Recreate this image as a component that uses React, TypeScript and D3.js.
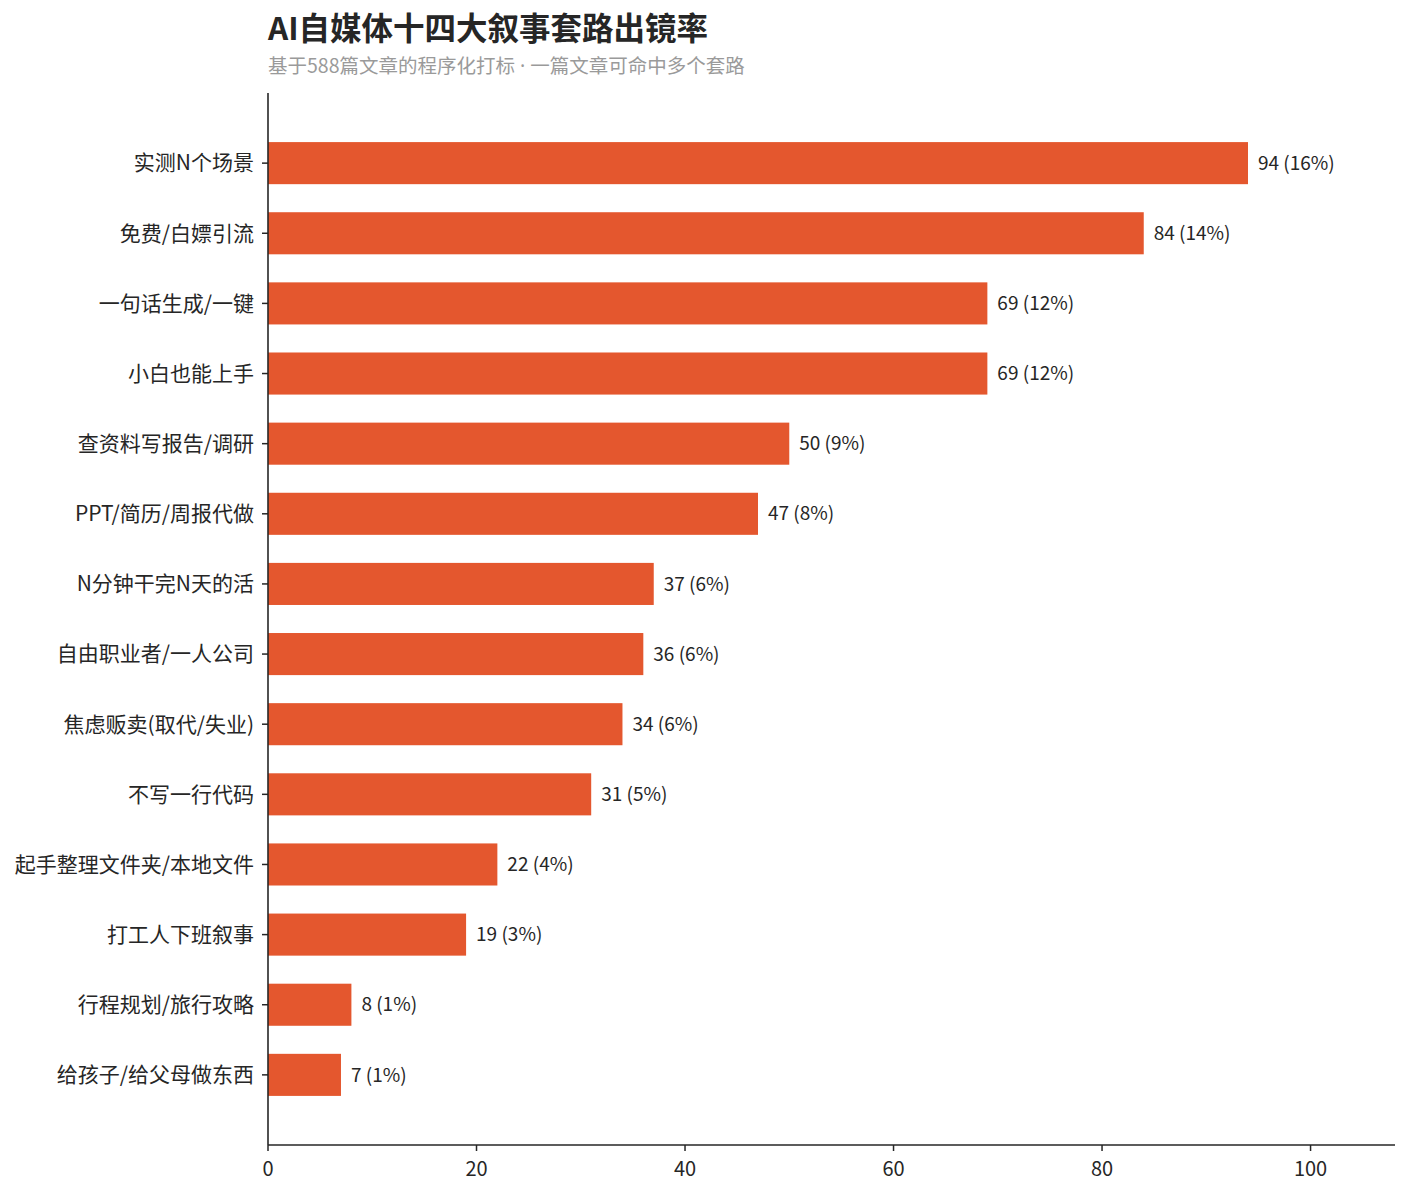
import React from 'react';
import * as d3 from 'd3';

// Chart data
const CATEGORIES: string[] = [
  '实测N个场景',
  '免费/白嫖引流',
  '一句话生成/一键',
  '小白也能上手',
  '查资料写报告/调研',
  'PPT/简历/周报代做',
  'N分钟干完N天的活',
  '自由职业者/一人公司',
  '焦虑贩卖(取代/失业)',
  '不写一行代码',
  '起手整理文件夹/本地文件',
  '打工人下班叙事',
  '行程规划/旅行攻略',
  '给孩子/给父母做东西',
];
const COUNTS: number[] = [94, 84, 69, 69, 50, 47, 37, 36, 34, 31, 22, 19, 8, 7];
const PERCENTS: number[] = [16, 14, 12, 12, 9, 8, 6, 6, 6, 5, 4, 3, 1, 1];
const X_TICKS: number[] = [0, 20, 40, 60, 80, 100];

const TITLE = 'AI自媒体十四大叙事套路出镜率';
const SUBTITLE_A = '基于588篇文章的程序化打标';
const SUBTITLE_B = '一篇文章可命中多个套路';

const WIDTH = 1410;
const HEIGHT = 1197;
const margin = { top: 93, right: 15, bottom: 52, left: 268 };
const FONT = '"Noto Sans CJK SC", "Noto Sans", sans-serif';
const BAR_COLOR = '#E4572E';
const INK = '#262626';

const App: React.FC = () => {
  const innerW = WIDTH - margin.left - margin.right;
  const innerH = HEIGHT - margin.top - margin.bottom;

  const x = d3.scaleLinear().domain([0, (d3.max(COUNTS) as number) * 1.15]).range([0, innerW]);
  const y = d3.scaleBand<string>().domain(CATEGORIES).range([0, innerH]).paddingInner(0.4).paddingOuter(0.7);

  return (
    <svg width={WIDTH} height={HEIGHT} style={{ display: 'block', margin: '-8px', fontFamily: FONT }}>
      <text x={margin.left} y={40} fontSize={31.5} fontWeight={700} fill={INK}>
        {TITLE}
      </text>
      <text x={margin.left} y={73} fontSize={19.5} fill="#9a9a9a">
        {SUBTITLE_A}
        <tspan fontFamily='"Noto Sans", sans-serif'>{' · '}</tspan>
        {SUBTITLE_B}
      </text>

      <g transform={`translate(${margin.left},${margin.top})`}>
        {CATEGORIES.map((c, i) => {
          const yy = y(c) as number;
          const cy = yy + y.bandwidth() / 2;
          return (
            <g key={c}>
              <rect x={0} y={yy} width={x(COUNTS[i])} height={y.bandwidth()} fill={BAR_COLOR} />
              <text x={x(COUNTS[i]) + 10} y={cy} dy="0.35em" fontSize={19} fill={INK}>
                {`${COUNTS[i]} (${PERCENTS[i]}%)`}
              </text>
              <line x1={-6} x2={0} y1={cy} y2={cy} stroke={INK} strokeWidth={1.5} />
              <text x={-14} y={cy} dy="0.35em" fontSize={21} textAnchor="end" fill={INK}>
                {c}
              </text>
            </g>
          );
        })}

        {/* axes */}
        <line x1={0} x2={0} y1={0} y2={innerH} stroke={INK} strokeWidth={1.6} />
        <line x1={0} x2={innerW} y1={innerH} y2={innerH} stroke={INK} strokeWidth={1.6} />
        {X_TICKS.map(t => (
          <g key={t} transform={`translate(${x(t)},${innerH})`}>
            <line y1={0} y2={6} stroke={INK} strokeWidth={1.5} />
            <text y={24} dy="0.35em" fontSize={20} textAnchor="middle" fill={INK}>
              {t}
            </text>
          </g>
        ))}
      </g>
    </svg>
  );
};

export default App;
